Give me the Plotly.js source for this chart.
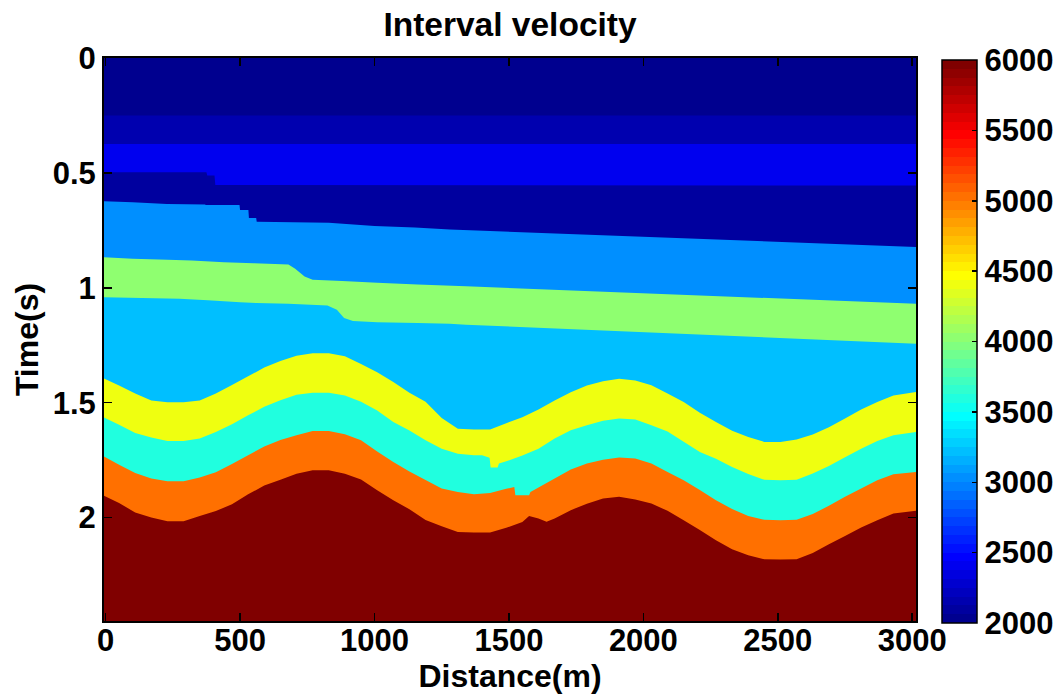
<!DOCTYPE html>
<html>
<head>
<meta charset="utf-8">
<script src="https://cdn.plot.ly/plotly-3.0.1.min.js"></script>
<style>html,body{margin:0;padding:0;background:#fff;}#chart{width:1057px;height:696px;}</style>
</head>
<body>
<div id="chart"></div>
<script>
// ---------------- data ----------------
// layer interval velocities, top to bottom (m/s)
const LAYER_V = [2000, 2150, 2400, 2100, 3000, 4000, 3200, 4400, 3600, 5000, 6000];

// interface times (s) along distance (m), top to bottom
const I1_X = [-15, 3015];
const I1_T = [0.249, 0.249];
const I2_X = [-15, 3015];
const I2_T = [0.373, 0.373];
const I3_X = [-15, 375, 378, 405, 408, 3015];
const I3_T = [0.496, 0.496, 0.510, 0.510, 0.551, 0.554];
const I4_X = [-15, 100, 228, 370, 372, 498, 500, 531, 533, 560, 562, 830, 1000, 1150, 1280, 3015];
const I4_T = [0.622, 0.627, 0.634, 0.636, 0.638, 0.638, 0.660, 0.660, 0.695, 0.695, 0.711, 0.716, 0.730, 0.737, 0.745, 0.822];
const I5_X = [-15, 100, 230, 320, 440, 550, 680, 705, 740, 770, 880, 1010, 1160, 1340, 3015];
const I5_T = [0.866, 0.873, 0.877, 0.880, 0.888, 0.892, 0.898, 0.916, 0.950, 0.964, 0.970, 0.977, 0.985, 0.993, 1.069];
const I6_X = [-15, 275, 380, 500, 560, 680, 825, 860, 887, 920, 1010, 1160, 1280, 1340, 3015];
const I6_T = [1.040, 1.047, 1.054, 1.062, 1.066, 1.069, 1.076, 1.095, 1.131, 1.144, 1.149, 1.153, 1.156, 1.160, 1.243];
const I7_X = [-15, 50, 110, 170, 230, 290, 350, 410, 470, 530, 590, 650, 710, 770, 830, 890, 950, 1010, 1070, 1130, 1190, 1250, 1310, 1370, 1430, 1490, 1550, 1610, 1670, 1730, 1790, 1850, 1910, 1970, 2030, 2090, 2150, 2210, 2270, 2330, 2390, 2450, 2510, 2570, 2630, 2690, 2750, 2810, 2870, 2930, 3015];
const I7_T = [1.390, 1.425, 1.460, 1.490, 1.498, 1.498, 1.490, 1.460, 1.423, 1.385, 1.347, 1.318, 1.295, 1.284, 1.284, 1.298, 1.331, 1.367, 1.410, 1.456, 1.496, 1.567, 1.613, 1.617, 1.617, 1.589, 1.563, 1.530, 1.490, 1.454, 1.425, 1.406, 1.395, 1.403, 1.424, 1.460, 1.497, 1.544, 1.584, 1.622, 1.649, 1.671, 1.671, 1.660, 1.638, 1.607, 1.569, 1.529, 1.497, 1.468, 1.453];
const I8_X = [-15, 50, 110, 170, 230, 290, 350, 410, 470, 530, 590, 650, 710, 770, 830, 890, 950, 1010, 1070, 1130, 1190, 1250, 1310, 1370, 1400, 1428, 1432, 1458, 1463, 1490, 1550, 1610, 1670, 1730, 1790, 1850, 1910, 1970, 2030, 2090, 2150, 2210, 2270, 2330, 2390, 2450, 2510, 2570, 2630, 2690, 2750, 2810, 2870, 2930, 3015];
const I8_T = [1.559, 1.596, 1.632, 1.652, 1.667, 1.667, 1.656, 1.628, 1.594, 1.555, 1.518, 1.489, 1.465, 1.456, 1.456, 1.468, 1.496, 1.534, 1.584, 1.621, 1.663, 1.700, 1.722, 1.729, 1.729, 1.740, 1.782, 1.782, 1.765, 1.755, 1.730, 1.700, 1.656, 1.620, 1.598, 1.578, 1.569, 1.573, 1.598, 1.625, 1.670, 1.715, 1.744, 1.780, 1.811, 1.836, 1.838, 1.836, 1.808, 1.776, 1.737, 1.700, 1.667, 1.642, 1.627];
const I9_X = [-15, 50, 110, 170, 230, 290, 350, 410, 470, 530, 590, 650, 710, 770, 830, 890, 950, 1010, 1070, 1130, 1190, 1250, 1310, 1370, 1430, 1490, 1520, 1524, 1575, 1580, 1610, 1670, 1730, 1790, 1850, 1910, 1970, 2030, 2090, 2150, 2210, 2270, 2330, 2390, 2450, 2510, 2570, 2630, 2690, 2750, 2810, 2870, 2930, 3015];
const I9_T = [1.729, 1.770, 1.806, 1.830, 1.842, 1.842, 1.826, 1.803, 1.767, 1.729, 1.691, 1.662, 1.642, 1.623, 1.623, 1.637, 1.663, 1.712, 1.758, 1.800, 1.837, 1.874, 1.889, 1.899, 1.893, 1.875, 1.867, 1.903, 1.903, 1.889, 1.869, 1.830, 1.791, 1.765, 1.748, 1.739, 1.743, 1.765, 1.802, 1.838, 1.880, 1.925, 1.963, 1.994, 2.010, 2.012, 2.010, 1.985, 1.949, 1.910, 1.874, 1.838, 1.812, 1.802];
const I10_X = [-15, 50, 110, 170, 230, 290, 350, 410, 470, 530, 590, 650, 710, 770, 830, 890, 950, 1010, 1070, 1130, 1190, 1250, 1310, 1370, 1430, 1490, 1550, 1575, 1610, 1640, 1670, 1730, 1790, 1850, 1910, 1970, 2030, 2090, 2150, 2210, 2270, 2330, 2390, 2450, 2510, 2570, 2630, 2690, 2750, 2810, 2870, 2930, 3015];
const I10_T = [1.900, 1.937, 1.978, 2.000, 2.016, 2.016, 1.994, 1.972, 1.942, 1.899, 1.861, 1.836, 1.809, 1.794, 1.794, 1.809, 1.834, 1.881, 1.925, 1.964, 2.011, 2.038, 2.063, 2.065, 2.065, 2.045, 2.020, 1.994, 2.004, 2.019, 2.004, 1.968, 1.940, 1.917, 1.910, 1.922, 1.939, 1.971, 2.012, 2.054, 2.099, 2.138, 2.164, 2.182, 2.183, 2.182, 2.155, 2.117, 2.081, 2.044, 2.012, 1.983, 1.971];

const X_TICKS = [0, 500, 1000, 1500, 2000, 2500, 3000];
const X_TICK_TEXT = ['0', '500', '1000', '1500', '2000', '2500', '3000'];
const Y_TICKS = [0, 0.5, 1, 1.5, 2];
const Y_TICK_TEXT = ['0', '0.5', '1', '1.5', '2'];
const CB_TICKS = [2000, 2500, 3000, 3500, 4000, 4500, 5000, 5500, 6000];
const CB_TICK_TEXT = ['2000', '2500', '3000', '3500', '4000', '4500', '5000', '5500', '6000'];
const V_MIN = 2000, V_MAX = 6000;

// ---------------- colour scale (MATLAB jet, 64 levels) ----------------
function u(i) { if (i < 1 || i > 47) return 0; if (i <= 16) return i / 16; if (i <= 31) return 1; return (48 - i) / 16; }
function jet(k) { // k = 1..64
  const r = Math.round(255 * u(k - 24)), g = Math.round(255 * u(k - 8)), b = Math.round(255 * u(k + 8));
  return 'rgb(' + r + ',' + g + ',' + b + ')';
}
const JET64 = [];
for (let k = 1; k <= 64; k++) { JET64.push([(k - 1) / 64, jet(k)]); JET64.push([k / 64, jet(k)]); }
function colorOf(v) { const k = Math.min(64, Math.floor((v - V_MIN) / (V_MAX - V_MIN) * 64) + 1); return jet(Math.max(1, k)); }

// ---------------- traces ----------------
const IFACES = [[I1_X, I1_T], [I2_X, I2_T], [I3_X, I3_T], [I4_X, I4_T], [I5_X, I5_T], [I6_X, I6_T], [I7_X, I7_T], [I8_X, I8_T], [I9_X, I9_T], [I10_X, I10_T]];
const BOTTOM = 2.6;
const traces = [];
traces.push({type: 'scatter', mode: 'none', fill: 'toself', hoverinfo: 'skip', showlegend: false,
  x: [-15, 3015, 3015, -15], y: [-0.1, -0.1, BOTTOM, BOTTOM], fillcolor: colorOf(LAYER_V[0])});
IFACES.forEach(function (f, i) {
  const xs = f[0].slice(), ys = f[1].slice();
  xs.push(3015, -15); ys.push(BOTTOM, BOTTOM);
  traces.push({type: 'scatter', mode: 'none', fill: 'toself', hoverinfo: 'skip', showlegend: false,
    x: xs, y: ys, fillcolor: colorOf(LAYER_V[i + 1])});
});
const FONT = 'Liberation Sans, Arial, sans-serif';
// colour bar carrier (point lies outside the axis range)
traces.push({type: 'scatter', mode: 'markers', x: [-1000], y: [1], showlegend: false, hoverinfo: 'skip',
  marker: {color: [V_MIN], cmin: V_MIN, cmax: V_MAX, colorscale: JET64, size: 1, showscale: true,
    colorbar: {thickness: 35, thicknessmode: 'pixels', len: 0.9995, lenmode: 'fraction',
      x: 942 / 1057, xref: 'container', xanchor: 'left', xpad: 0,
      y: 1 - 2 / 563, yref: 'paper', yanchor: 'top', ypad: 0,
      outlinewidth: 1.5, outlinecolor: 'black', borderwidth: 0,
      tickvals: CB_TICKS, ticktext: CB_TICK_TEXT, ticks: 'inside', ticklen: 5, tickcolor: 'black', tickwidth: 1.5,
      tickfont: {family: FONT, size: 31, color: 'black', weight: 'bold'}}}});

const layout = {
  width: 1057, height: 696,
  margin: {l: 104, r: 141, t: 58, b: 75, pad: 0, autoexpand: false},
  paper_bgcolor: 'white', plot_bgcolor: 'white',
  font: {family: FONT, size: 31, color: 'black', weight: 'bold'},
  title: {text: 'Interval velocity', font: {family: FONT, size: 33.5, color: 'black', weight: 'bold'},
    x: 0.5, xref: 'paper', xanchor: 'center', y: 1 - 24 / 696, yref: 'container', yanchor: 'middle'},
  xaxis: {range: [-6, 3014], tickvals: X_TICKS, ticktext: X_TICK_TEXT, ticks: 'inside', ticklen: 8, tickwidth: 1.5,
    tickcolor: 'black', showline: true, linecolor: 'black', linewidth: 2, mirror: 'ticks', showgrid: false,
    zeroline: false, automargin: false, ticklabelstandoff: -9,
    tickfont: {family: FONT, size: 31, color: 'black', weight: 'bold'},
    title: {text: 'Distance(m)', standoff: 0, font: {family: FONT, size: 32, color: 'black', weight: 'bold'}}},
  yaxis: {range: [2.451, -0.002], tickvals: Y_TICKS, ticktext: Y_TICK_TEXT, ticks: 'inside', ticklen: 8, tickwidth: 1.5,
    tickcolor: 'black', showline: true, linecolor: 'black', linewidth: 2, mirror: 'ticks', showgrid: false,
    zeroline: false, automargin: false, tickfont: {family: FONT, size: 31, color: 'black', weight: 'bold'},
    title: {text: 'Time(s)', standoff: 4, font: {family: FONT, size: 32, color: 'black', weight: 'bold'}}}
};
Plotly.newPlot('chart', traces, layout, {staticPlot: true, displayModeBar: false});
</script>
</body>
</html>
